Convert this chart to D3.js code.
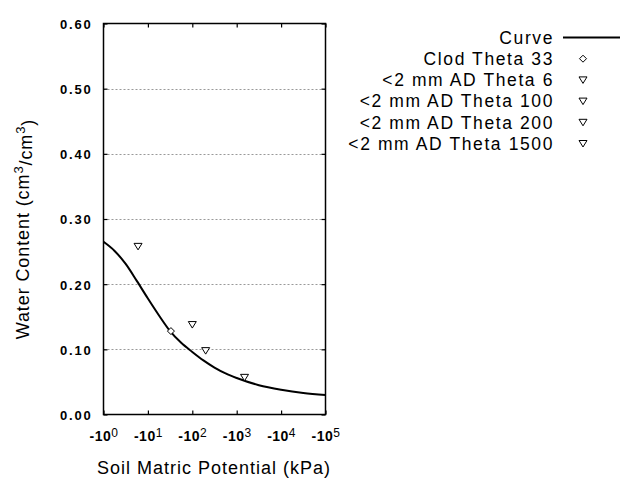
<!DOCTYPE html>
<html>
<head>
<meta charset="utf-8">
<script src="https://cdn.jsdelivr.net/npm/d3@7"></script>
<style>
  html, body { margin: 0; padding: 0; background: #fff; }
  svg { display: block; }
  text { font-family: "Liberation Sans", Arial, sans-serif; fill: #000; }
</style>
</head>
<body>
<svg id="chart" width="640" height="480"></svg>
<script>
// ---- data ----
const curvePotential = [1, 1.78, 3.16, 5.62, 10, 17.8, 31.6, 56.2, 100, 178, 316, 562, 1000, 3160, 10000, 31600, 100000];
const curveTheta     = [0.265, 0.251, 0.231, 0.205, 0.178, 0.152, 0.128, 0.110, 0.096, 0.083, 0.072, 0.063, 0.056, 0.045, 0.038, 0.033, 0.030];

const clodPotential = [33];
const clodTheta     = [0.128];

const adSeries = ["<2 mm AD Theta 6", "<2 mm AD Theta 100", "<2 mm AD Theta 200", "<2 mm AD Theta 1500"];
const adPotential = [6, 100, 200, 1500];
const adTheta     = [0.258, 0.138, 0.098, 0.057];

const legendLabels = ["Curve", "Clod Theta 33"].concat(adSeries);
const legendKinds  = ["line", "diamond", "triangle", "triangle", "triangle", "triangle"];

const xTicks = [1, 10, 100, 1000, 10000, 100000];
const yTicks = [0, 0.1, 0.2, 0.3, 0.4, 0.5, 0.6];
const gridTicks = [0.1, 0.2, 0.3, 0.4, 0.5];

// ---- layout ----
const L = 103.5, R = 325.5, T = 23.5, B = 414.5;
const svg = d3.select("#chart");

const x = d3.scaleLog().domain([1, 100000]).range([L, R]);
const y = d3.scaleLinear().domain([0, 0.6]).range([B, T]);

// gridlines
svg.append("g").selectAll("line").data(gridTicks).join("line")
  .attr("x1", L).attr("x2", R)
  .attr("y1", d => Math.round(y(d)) + 0.5).attr("y2", d => Math.round(y(d)) + 0.5)
  .attr("stroke", "#999").attr("stroke-width", 1).attr("stroke-dasharray", "2,2");

// axes
const fmtY = d3.format(".2f");
const gL = svg.append("g").attr("transform", `translate(${L},0)`)
  .call(d3.axisLeft(y).tickValues(yTicks).tickFormat(fmtY).tickSizeInner(-4).tickSizeOuter(0).tickPadding(11));
const gR = svg.append("g").attr("transform", `translate(${R},0)`)
  .call(d3.axisRight(y).tickValues(yTicks).tickFormat("").tickSizeInner(-4).tickSizeOuter(0));
const gB = svg.append("g").attr("transform", `translate(0,${B})`)
  .call(d3.axisBottom(x).tickValues(xTicks).tickFormat(d => "").tickSizeInner(-4).tickSizeOuter(0).tickPadding(17));
const gT = svg.append("g").attr("transform", `translate(0,${T})`)
  .call(d3.axisTop(x).tickValues(xTicks).tickFormat("").tickSizeInner(-4).tickSizeOuter(0));

[gL, gR, gB, gT].forEach(g => {
  g.select(".domain").remove();
  g.selectAll(".tick line").attr("stroke", "#000").attr("stroke-width", 1.2);
});

gL.selectAll(".tick text")
  .attr("font-family", "'Liberation Sans', Arial, sans-serif")
  .attr("font-size", 13).attr("font-weight", "bold").attr("letter-spacing", "1.8px")
  .attr("dy", "0.38em");

gB.selectAll(".tick text").each(function(d) {
  const t = d3.select(this);
  t.text(null)
   .attr("font-family", "'Liberation Sans', Arial, sans-serif")
   .attr("font-size", 14).attr("font-weight", "bold").attr("letter-spacing", "0.5px");
  t.append("tspan").text("-10");
  t.append("tspan").attr("font-size", 12).attr("font-weight", "normal").attr("dy", "-0.4em")
   .text(Math.round(Math.log10(d)));
});

// frame
svg.append("rect").attr("x", L).attr("y", T).attr("width", R - L).attr("height", B - T)
  .attr("fill", "none").attr("stroke", "#000").attr("stroke-width", 1.5);

// curve
const line = d3.line().x(d => x(d[0])).y(d => y(d[1])).curve(d3.curveMonotoneX);
svg.append("path").datum(curvePotential.map((p, i) => [p, curveTheta[i]]))
  .attr("d", line).attr("fill", "none").attr("stroke", "#000").attr("stroke-width", 2);

// markers
const triPath = "M-4,-3L4,-3L0,3.5Z";
const diaPath = "M0,-3.5L3.5,0L0,3.5L-3.5,0Z";
svg.append("g").selectAll("path").data(adPotential.map((p, i) => [p, adTheta[i]])).join("path")
  .attr("transform", d => `translate(${x(d[0])},${y(d[1])})`)
  .attr("d", triPath).attr("fill", "#fff").attr("stroke", "#000").attr("stroke-width", 1);
svg.append("g").selectAll("path").data(clodPotential.map((p, i) => [p, clodTheta[i]])).join("path")
  .attr("transform", d => `translate(${x(d[0])},${y(d[1])})`)
  .attr("d", diaPath).attr("fill", "#fff").attr("stroke", "#000").attr("stroke-width", 1);

// legend
const lg = svg.append("g");
legendLabels.forEach((lab, i) => {
  const cy = 37.5 + i * 21.2;
  lg.append("text").attr("x", 554).attr("y", cy).attr("dy", "0.36em")
    .attr("text-anchor", "end").attr("font-size", 17.5).attr("letter-spacing", "1.6px").text(lab);
  const k = legendKinds[i];
  if (k === "line") {
    lg.append("line").attr("x1", 563).attr("x2", 620).attr("y1", cy).attr("y2", cy)
      .attr("stroke", "#000").attr("stroke-width", 2);
  } else {
    lg.append("path").attr("transform", `translate(583,${cy})`)
      .attr("d", k === "diamond" ? diaPath : triPath)
      .attr("fill", "#fff").attr("stroke", "#000").attr("stroke-width", 1);
  }
});

// axis titles
svg.append("text").attr("x", 214).attr("y", 474).attr("text-anchor", "middle")
  .attr("font-size", 18).attr("letter-spacing", "1px").text("Soil Matric Potential (kPa)");

const yt = svg.append("text").attr("transform", "translate(29,229) rotate(-90)")
  .attr("text-anchor", "middle").attr("font-size", 18).attr("letter-spacing", "0.9px");
yt.append("tspan").text("Water Content (cm");
yt.append("tspan").attr("font-size", 13).attr("dy", "-0.5em").text("3");
yt.append("tspan").attr("dy", "0.5em").text("/cm");
yt.append("tspan").attr("font-size", 13).attr("dy", "-0.5em").text("3");
yt.append("tspan").attr("dy", "0.5em").text(")");
</script>
</body>
</html>
